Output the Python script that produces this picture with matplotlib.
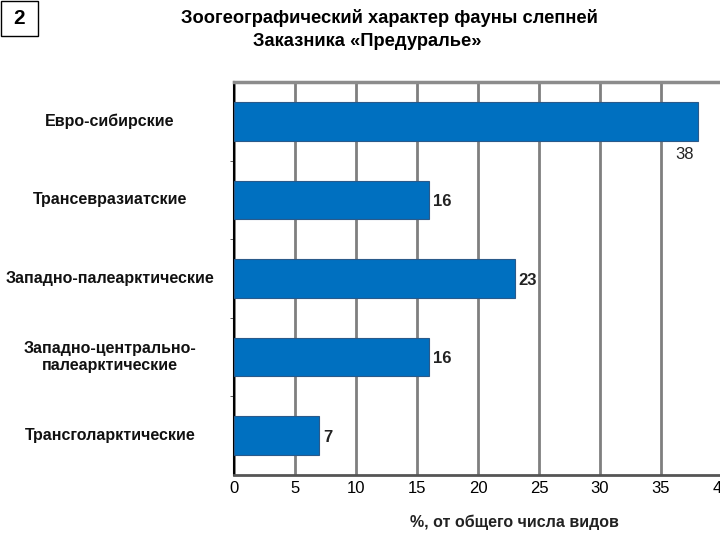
import matplotlib.pyplot as plt
from matplotlib.patches import Rectangle

plt.rcParams['font.family'] = ['Liberation Sans', 'DejaVu Sans']

# данные
categories = ['Евро-сибирские', 'Трансевразиатские', 'Западно-палеарктические',
              'Западно-центрально-\nпалеарктические', 'Трансголарктические']
values = [38, 16, 23, 16, 7]
xticks = [0, 5, 10, 15, 20, 25, 30, 35, 40]

fig = plt.figure(figsize=(7.2, 5.4), dpi=100)
ax = fig.add_axes([234/720, 1-475/540, 488/720, 393/540])

ypos = list(range(len(values)))
ax.barh(ypos, values, height=0.49, color='#0070C0', edgecolor='#2a5a8a', linewidth=0.8, zorder=3)

ax.set_xlim(0, 40)
ax.set_ylim(4.5, -0.5)
ax.set_xticks(xticks)
ax.set_xticklabels([str(t) for t in xticks], fontsize=12)
ax.set_yticks([])
ax.set_yticks([0.5, 1.5, 2.5, 3.5], minor=True)
ax.tick_params(axis='y', which='minor', length=3, color='#444444')
ax.tick_params(axis='x', length=0, pad=4)
ax.grid(axis='x', color='#7f7f7f', linewidth=2, zorder=0)

ax.spines['right'].set_visible(False)
ax.spines['top'].set_color('#8c8c8c')
ax.spines['top'].set_linewidth(2.5)
ax.spines['left'].set_color('black')
ax.spines['left'].set_linewidth(1.5)
ax.spines['bottom'].set_color('#555555')
ax.spines['bottom'].set_linewidth(2)

# подписи категорий
for y, c in zip(ypos, categories):
    fig.text(110/720, ax.transData.transform((0, y))[1]/540, c, ha='center', va='center',
             fontsize=11.5, fontweight='bold', color='#111111', linespacing=1.1)

# значения
for y, v in zip(ypos, values):
    if v == max(values):
        ax.text(v - 0.3, y + 0.42, str(v), ha='right', va='center', fontsize=12, color='#222222')
    else:
        ax.text(v + 0.3, y + 0.02, str(v), ha='left', va='center', fontsize=12,
                fontweight='bold', color='#222222')

# подпись оси x
fig.text(514/720, 1-522/540, '%, от общего числа видов', ha='center', va='center',
         fontsize=11.5, fontweight='bold', color='#222222')

# заголовок
fig.text(389/720, 1-18/540, 'Зоогеографический характер фауны слепней', ha='center', va='center',
         fontsize=13.2, fontweight='bold')
fig.text(367/720, 1-41/540, 'Заказника «Предуралье»', ha='center', va='center',
         fontsize=13.2, fontweight='bold')

fig.patches.append(Rectangle((1/720, 1-36/540), 37/720, 35/540, transform=fig.transFigure,
                             fill=False, edgecolor='black', linewidth=1))
fig.text(19.5/720, 1-18.5/540, '2', ha='center', va='center', fontsize=15, fontweight='bold')

plt.savefig('out.png', dpi=100)
